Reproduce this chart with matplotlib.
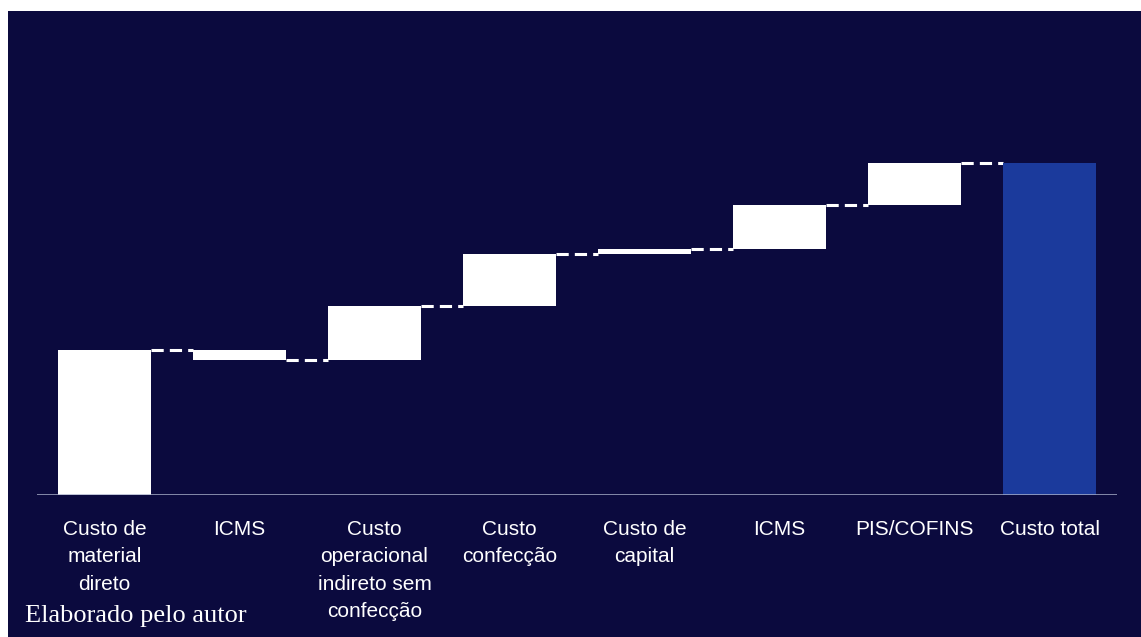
"""Waterfall de custos: do material direto ao custo total."""
import matplotlib
matplotlib.use("Agg")
import matplotlib.pyplot as plt
import numpy as np
from matplotlib.patches import Rectangle

# dados (unidades arbitrarias)
categorias = ["Custo de\nmaterial\ndireto", "ICMS", "Custo\noperacional\nindireto sem\nconfecção",
              "Custo\nconfecção", "Custo de\ncapital", "ICMS", "PIS/COFINS", "Custo total"]
variacoes = [145, -10, 54, 52, 5, 44, 42]

NAVY = "#0b0a3e"
BLUE = "#1b3a9c"

W, H, DPI = 1141, 637, 100
fig = plt.figure(figsize=(W / DPI, H / DPI), dpi=DPI, facecolor="white")
fig.patches.append(Rectangle((8 / W, 0), 1, (H - 11) / H, transform=fig.transFigure,
                             facecolor=NAVY, edgecolor="none", zorder=-5))

ax = fig.add_axes([37 / W, 142 / H, 1080 / W, 484 / H])
ax.set_facecolor("none")

fim = np.cumsum(variacoes)
inicio = fim - np.array(variacoes)
total = fim[-1]
largura = 0.69
x = np.arange(len(categorias))

for i, (a, b) in enumerate(zip(inicio, fim)):
    lo, hi = min(a, b), max(a, b)
    ax.bar(x[i], hi - lo, bottom=lo, width=largura, color="white", zorder=3)
ax.bar(x[-1], total, width=largura, color=BLUE, zorder=3)

# conectores tracejados
for i, nivel in enumerate(fim):
    ax.plot([x[i] + largura / 2, x[i + 1] - largura / 2], [nivel, nivel],
            color="white", lw=2.2, ls=(0, (4, 2)), solid_capstyle="butt", zorder=2)

ax.axhline(0, color="#a9b0c9", lw=1.8, zorder=4)
ax.set_xlim(-0.5, 7.5)
ax.set_ylim(0, 484)
for s in ax.spines.values():
    s.set_visible(False)
ax.set_yticks([])
ax.set_xticks(x)
ax.set_xticklabels(categorias, color="white", fontsize=15, family="Liberation Sans",
                   linespacing=1.55, va="top")
ax.tick_params(axis="x", length=0, pad=18)

fig.text(25 / W, 15 / H, "Elaborado pelo autor", color="white", fontsize=19,
         family="Liberation Serif", va="baseline", ha="left")

fig.savefig("out.png", dpi=DPI, facecolor=fig.get_facecolor())
